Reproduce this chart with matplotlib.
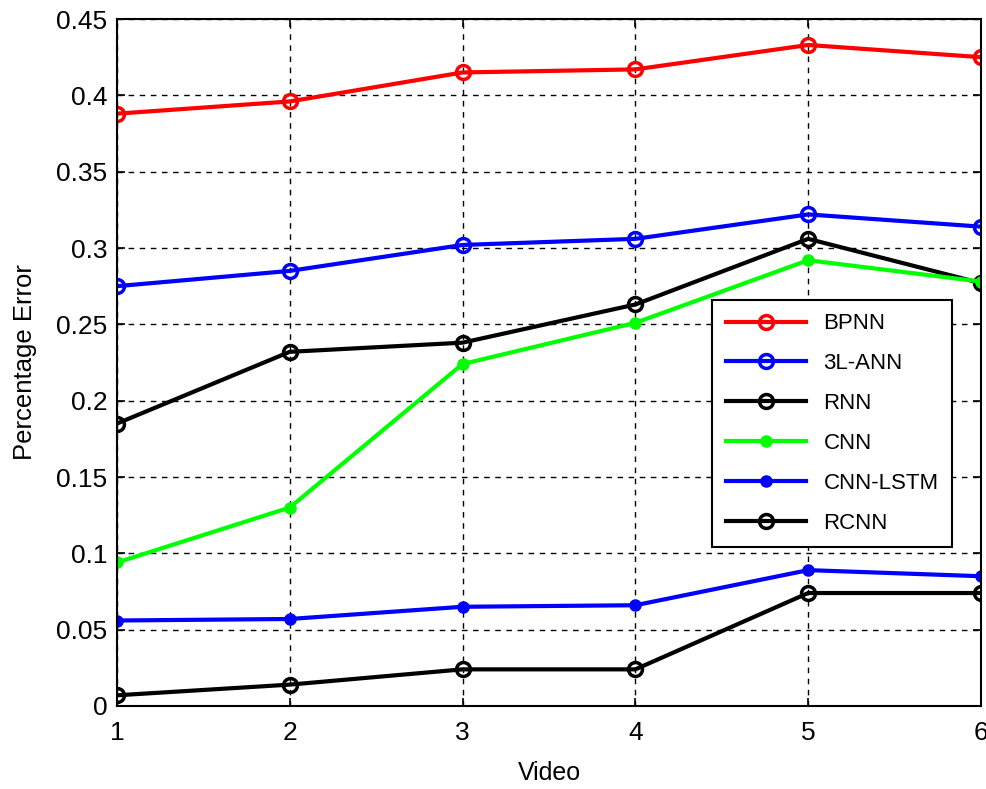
import matplotlib
matplotlib.use("Agg")
import matplotlib.pyplot as plt

plt.rcParams['font.family'] = ['Liberation Sans', 'DejaVu Sans']

videos = [1, 2, 3, 4, 5, 6]
bpnn = [0.388, 0.396, 0.415, 0.417, 0.433, 0.425]
ann3l = [0.275, 0.285, 0.302, 0.306, 0.322, 0.314]
rnn = [0.185, 0.232, 0.238, 0.263, 0.306, 0.277]
cnn = [0.094, 0.130, 0.224, 0.251, 0.292, 0.278]
cnn_lstm = [0.056, 0.057, 0.065, 0.066, 0.089, 0.085]
rcnn = [0.007, 0.014, 0.024, 0.024, 0.074, 0.074]

fig = plt.figure(figsize=(9.87, 7.89), dpi=100)
ax = fig.add_axes([0.1185, 0.1052, 0.8754, 0.8707])

lw = 3
ax.plot(videos, bpnn, color='#ff0000', lw=lw, marker='o', ms=10, mfc='none', mew=2.5, label='BPNN')
ax.plot(videos, ann3l, color='#0000ff', lw=lw, marker='o', ms=10, mfc='none', mew=2.5, label='3L-ANN')
ax.plot(videos, rnn, color='black', lw=lw, marker='o', ms=10, mfc='none', mew=2.5, label='RNN')
ax.plot(videos, cnn, color='#00ff00', lw=lw, marker='o', ms=8, label='CNN')
ax.plot(videos, cnn_lstm, color='#0000ff', lw=lw, marker='o', ms=8, label='CNN-LSTM')
ax.plot(videos, rcnn, color='black', lw=lw, marker='o', ms=10, mfc='none', mew=2.5, label='RCNN')

ax.set_xlim(1, 6)
ax.set_ylim(0, 0.45)
ax.set_xticks(videos)
ax.set_yticks([0, 0.05, 0.1, 0.15, 0.2, 0.25, 0.3, 0.35, 0.4, 0.45])
ax.set_yticklabels(['0', '0.05', '0.1', '0.15', '0.2', '0.25', '0.3', '0.35', '0.4', '0.45'])
ax.tick_params(direction='in', top=True, right=True, labelsize=19, length=6, width=1.2)
ax.tick_params(axis='y', pad=7)
ax.tick_params(axis='x', pad=11)
ax.grid(True, linestyle=(0, (4, 4)), color='black', lw=1.0)
for s in ax.spines.values():
    s.set_linewidth(1.5)

ax.set_xlabel('Video', fontsize=18, labelpad=11)
ax.set_ylabel('Percentage Error', fontsize=18.5, labelpad=14)

leg = ax.legend(loc='upper left', bbox_to_anchor=(0.689, 0.591), fontsize=16,
                handlelength=3.6, labelspacing=0.85, borderaxespad=0, fancybox=False,
                framealpha=1, edgecolor='black', borderpad=0.6)
leg.get_frame().set_linewidth(1.5)

fig.savefig('out.png', dpi=100)
